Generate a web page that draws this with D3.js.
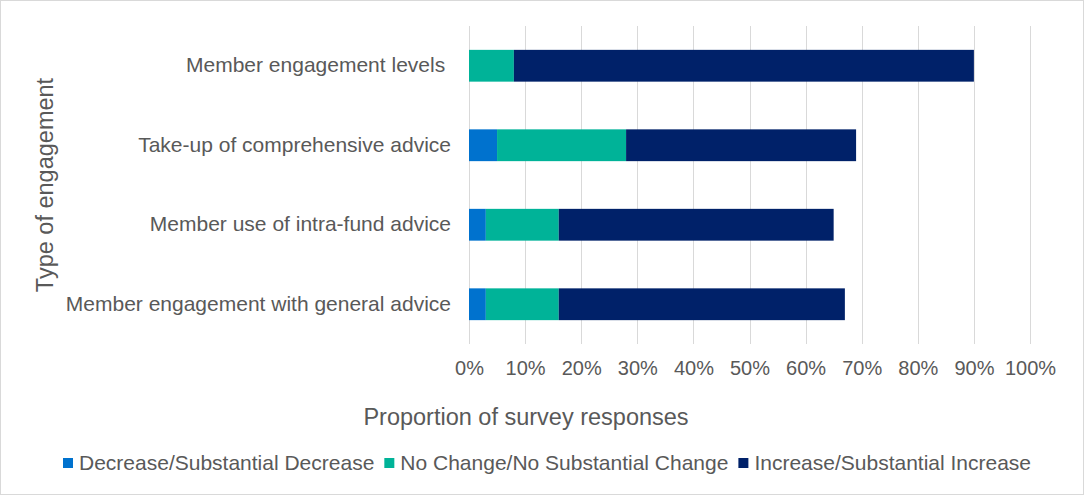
<!DOCTYPE html>
<html>
<head>
<meta charset="utf-8">
<script src="https://cdn.jsdelivr.net/npm/d3@7"></script>
<style>
  body { margin: 0; background: #fff; }
  text { font-family: "Liberation Sans", Arial, sans-serif; fill: #595959; white-space: pre; }
</style>
</head>
<body>
<div id="chart"></div>
<script>
var categories = [
    "Member engagement levels ",
    "Take-up of comprehensive advice",
    "Member use of intra-fund advice",
    "Member engagement with general advice"
];
var seriesNames = ["Decrease/Substantial Decrease", "No Change/No Substantial Change", "Increase/Substantial Increase"];
var decrease = [0, 5, 3, 3];
var noChange = [8, 23, 13, 13];
var increase = [82, 41, 49, 51];
var ticks = [0, 0.1, 0.2, 0.3, 0.4, 0.5, 0.6, 0.7, 0.8, 0.9, 1];

var palette = ["#0072ce", "#00b398", "#002169"];

var width = 1084, height = 497;
var margin = {top: 26, right: 54, bottom: 153, left: 469};

var rows = categories.map(function(c, i){
    return {cat: c, dec: decrease[i] / 100, noc: noChange[i] / 100, inc: increase[i] / 100};
});

var stack = d3.stack().keys(["dec", "noc", "inc"]);
var layers = stack(rows);

var svg = d3.select("#chart").append("svg")
    .attr("width", width)
    .attr("height", height);

svg.append("rect")
    .attr("x", 0.5).attr("y", 0.5)
    .attr("width", width - 1).attr("height", height - 3)
    .attr("fill", "#fff")
    .attr("stroke", "#d9d9d9");

var x = d3.scaleLinear()
    .domain([0, 1])
    .range([margin.left, width - margin.right]);

var y = d3.scaleBand()
    .domain(categories)
    .range([margin.top, height - margin.bottom])
    .paddingInner(0.6)
    .paddingOuter(0.3);

// gridlines
svg.append("g")
    .selectAll("line")
    .data(ticks)
    .enter().append("line")
    .attr("x1", function(d){ return Math.round(x(d)) + 0.5; })
    .attr("x2", function(d){ return Math.round(x(d)) + 0.5; })
    .attr("y1", margin.top)
    .attr("y2", height - margin.bottom)
    .attr("stroke", "#d9d9d9")
    .attr("stroke-width", 1);

// bars
svg.append("g")
    .selectAll("g")
    .data(layers)
    .enter().append("g")
    .attr("fill", function(d, i){ return palette[i]; })
    .selectAll("rect")
    .data(function(d){ return d; })
    .enter().append("rect")
    .attr("x", function(d){ return x(d[0]); })
    .attr("y", function(d){ return y(d.data.cat); })
    .attr("width", function(d){ return x(d[1]) - x(d[0]); })
    .attr("height", y.bandwidth());

// x axis
var xAxis = svg.append("g")
    .attr("transform", "translate(0," + (height - margin.bottom) + ")")
    .call(d3.axisBottom(x).tickValues(ticks).tickFormat(d3.format(".0%")).tickSize(0).tickPadding(17));
xAxis.select(".domain").remove();
xAxis.selectAll("text")
    .style("font-size", "20px")
    .style("fill", "#595959");

// y axis
var yAxis = svg.append("g")
    .attr("transform", "translate(" + (margin.left - 18) + ",0)")
    .call(d3.axisLeft(y).tickSize(0).tickPadding(0));
yAxis.select(".domain").remove();
yAxis.selectAll("text")
    .style("font-size", "21px")
    .style("fill", "#595959");

// axis titles
svg.append("text")
    .attr("x", 526)
    .attr("y", 425)
    .attr("text-anchor", "middle")
    .style("font-size", "23.5px")
    .text("Proportion of survey responses");

svg.append("text")
    .attr("transform", "translate(53,185) rotate(-90)")
    .attr("text-anchor", "middle")
    .style("font-size", "23.5px")
    .text("Type of engagement");

// legend
var legend = svg.append("g").attr("transform", "translate(63,0)");
var lx = 0;
seriesNames.forEach(function(name, i){
    var g = legend.append("g").attr("transform", "translate(" + lx + ",0)");
    g.append("rect")
        .attr("x", 0).attr("y", 458)
        .attr("width", 10).attr("height", 10)
        .attr("fill", palette[i]);
    var t = g.append("text")
        .attr("x", 16).attr("y", 470)
        .style("font-size", "21px")
        .text(name);
    lx += 16 + t.node().getComputedTextLength() + 10;
});
</script>
</body>
</html>
